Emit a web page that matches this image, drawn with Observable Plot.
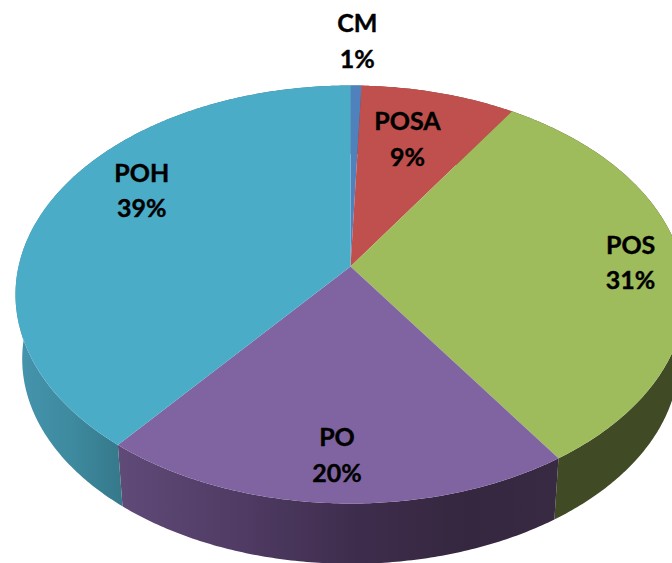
<!DOCTYPE html>
<html>
<head>
<meta charset="utf-8">
<style>html,body{margin:0;padding:0;background:#fff}svg{display:block}</style>
<script src="https://cdn.jsdelivr.net/npm/d3@7"></script>
<script src="https://cdn.jsdelivr.net/npm/@observablehq/plot@0.6"></script>
</head>
<body>
<div id="chart"></div>
<script>
// Data
const names = ["CM", "POSA", "POS", "PO", "POH"];
const values = [0.6, 8.5, 31.5, 20.2, 39.2];
const labels = ["1%", "9%", "31%", "20%", "39%"];

// Styles
const topColors = ["#4f81bd", "#c0504d", "#9fbc5c", "#8064a2", "#4bacc8"];
const wallFills = ["#3b5a82", "#8c3a38", "url(#wallPOS)", "url(#wallPO)", "url(#wallPOH)"];

// Label placement in pie coordinates: turn from 12 o'clock, radius
const labelTurn = [0.003, 0.0434, 0.248, 0.507, 0.833];
const labelRadius = [1.279, 0.695, 0.845, 0.824, 0.762];

// Perspective model of the tilted pie
const W = 672, H = 563;
const cx = 350, cy = 294, rx = 335, ry = 209;
const tilt = -28 / 209, shrink = Math.sqrt(1 - tilt * tilt);
const apexY = 266, depth = 65, bottomScale = 0.98;

function project(turn, r) {
  const a = turn * 2 * Math.PI;
  const u = r * Math.sin(a), v = -r * Math.cos(a);
  const d = 1 + tilt * v;
  return {x: cx + rx * u * shrink / d, y: cy + ry * (v + tilt) / d};
}
function lower(p) {
  return {x: cx + (p.x - cx) * bottomScale, y: apexY + depth + (p.y - apexY) * bottomScale};
}

const total = d3.sum(values);
const starts = d3.cumsum([0, ...values]).map((d) => d / total);

function arc(i) {
  const n = Math.max(8, Math.ceil(values[i] * 6));
  return d3.range(n + 1).map((k) => project(starts[i] + (starts[i + 1] - starts[i]) * k / n, 1));
}

const topPolys = names.map((name, i) => [project(0, 0), ...arc(i)]);
const wallPolys = names.map((name, i) => {
  const a = arc(i);
  return [...a, ...a.slice().reverse().map(lower)];
});

const labelRows = names.map((name, i) => ({
  ...project(labelTurn[i], labelRadius[i]),
  text: `${name}\n${labels[i]}`
}));

function gradient(id, x1, x2, stops) {
  return `<linearGradient id="${id}" gradientUnits="userSpaceOnUse" x1="${x1}" y1="0" x2="${x2}" y2="0">` +
    stops.map(([o, c]) => `<stop offset="${o}" stop-color="${c}"/>`).join("") +
    `</linearGradient>`;
}
const defsMark = () => {
  const g = document.createElementNS("http://www.w3.org/2000/svg", "g");
  g.innerHTML = "<defs>" +
    gradient("wallPOS", 553, 672, [[0, "#404a25"], [1, "#404a25"]]) +
    gradient("wallPO", 118, 557, [[0, "#604a78"], [0.3, "#4e3a62"], [0.55, "#3e2c4c"], [0.8, "#35273f"], [1, "#372a42"]]) +
    gradient("wallPOH", 20, 122, [[0, "#4494ac"], [0.5, "#3e8a9f"], [1, "#35788a"]]) +
    "</defs>";
  return g;
};

const poly = (rows, fill) => Plot.line(rows, {x: "x", y: "y", fill, stroke: "none", curve: "linear"});

const plot = Plot.plot({
  width: W,
  height: H,
  margin: 0,
  x: {domain: [0, W], range: [0, W], axis: null},
  y: {domain: [0, H], range: [0, H], axis: null},
  style: {background: "#fff"},
  marks: [
    defsMark,
    ...wallPolys.map((rows, i) => poly(rows, wallFills[i])),
    ...topPolys.map((rows, i) => poly(rows, topColors[i])),
    Plot.text(labelRows, {
      x: "x", y: "y", text: "text", dy: -4,
      fontFamily: "Lato", fontWeight: 700, fontSize: 25,
      lineHeight: 35.5 / 25, fill: "#000", stroke: "#000", strokeWidth: 0.4, textAnchor: "middle"
    })
  ]
});
document.getElementById("chart").append(plot);
</script>
</body>
</html>
